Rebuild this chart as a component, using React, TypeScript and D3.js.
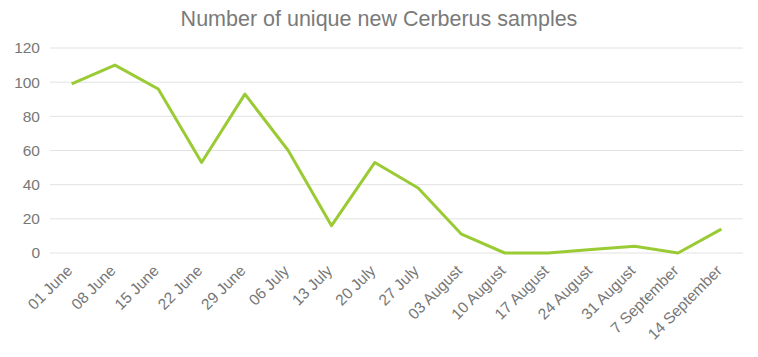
import React from "react";
import * as d3 from "d3";

const categories = ["01 June","08 June","15 June","22 June","29 June","06 July","13 July","20 July","27 July","03 August","10 August","17 August","24 August","31 August","7 September","14 September"];
const values = [99,110,96,53,93,60,16,53,38,11,0,0,2,4,0,14];
const yTicks = [0,20,40,60,80,100,120];
const title = "Number of unique new Cerberus samples";

export default function App() {
  const W = 758, H = 357;
  const left = 50, right = 743, top = 48, bottom = 253;
  const x = d3.scalePoint<string>().domain(categories).range([left, right]).padding(0.5);
  const y = d3.scaleLinear().domain([0, 120]).range([bottom, top]);
  const line = d3.line<number>().x((_, i) => x(categories[i])!).y(d => y(d));
  const font = "'Liberation Sans', Arial, Helvetica, sans-serif";
  return (
    <svg width={W} height={H} style={{ position: "absolute", left: 0, top: 0 }} fontFamily={font}>
      <text x={379} y={26} textAnchor="middle" fontSize={21.5} fill="#7a7a7a">{title}</text>
      {yTicks.map(t => (
        <g key={t}>
          <line x1={left} x2={right} y1={y(t)} y2={y(t)} stroke="#e2e2e2" strokeWidth={1} />
          <text x={40} y={y(t)} dy="0.35em" textAnchor="end" fontSize={15.5} fill="#777">{t}</text>
        </g>
      ))}
      {categories.map(c => (
        <text key={c} transform={`translate(${x(c)! - 6},${bottom + 11}) rotate(-45)`} textAnchor="end" dy="0.7em" fontSize={15.5} fill="#777">{c}</text>
      ))}
      <path d={line(values)!} fill="none" stroke="#9acb34" strokeWidth={3} strokeLinejoin="round" />
    </svg>
  );
}
